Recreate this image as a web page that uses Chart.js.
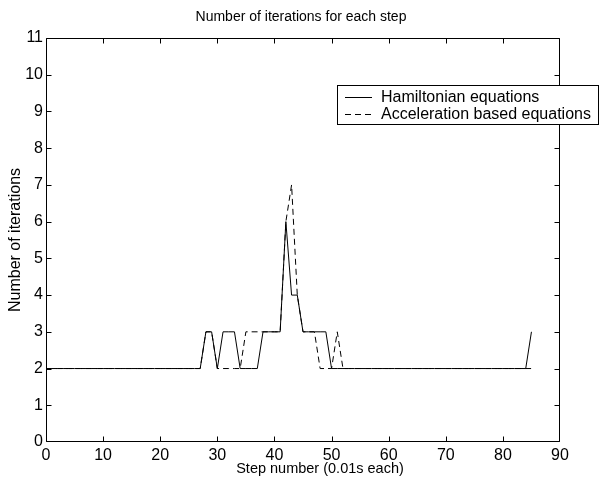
<!DOCTYPE html>
<html><head><meta charset="utf-8">
<script src="https://cdn.jsdelivr.net/npm/chart.js@4/dist/chart.umd.min.js"></script>
<style>html,body{margin:0;padding:0;background:#fff;overflow:hidden}</style>
</head><body>
<canvas id="c" width="599" height="481"></canvas>
<script>
const TITLE = "Number of iterations for each step";
const X_LABEL = "Step number (0.01s each)";
const Y_LABEL = "Number of iterations";
const steps = [0,1,2,3,4,5,6,7,8,9,10,11,12,13,14,15,16,17,18,19,20,21,22,23,24,25,26,27,28,29,30,31,32,33,34,35,36,37,38,39,40,41,42,43,44,45,46,47,48,49,50,51,52,53,54,55,56,57,58,59,60,61,62,63,64,65,66,67,68,69,70,71,72,73,74,75,76,77,78,79,80,81,82,83,84,85];
const hamiltonian = [2,2,2,2,2,2,2,2,2,2, 2,2,2,2,2,2,2,2,2,2, 2,2,2,2,2,2,2,2,3,3, 2,3,3,3,2,2,2,2,3,3, 3,3,6,4,4,3,3,3,3,3, 2,2,2,2,2,2,2,2,2,2, 2,2,2,2,2,2,2,2,2,2, 2,2,2,2,2,2,2,2,2,2, 2,2,2,2,2,3];
const acceleration = [2,2,2,2,2,2,2,2,2,2, 2,2,2,2,2,2,2,2,2,2, 2,2,2,2,2,2,2,2,3,3, 2,2,2,2,2,3,3,3,3,3, 3,3,6,7,4,3,3,3,2,2, 2,3,2,2,2,2,2,2,2,2, 2,2,2,2,2,2,2,2,2,2, 2,2,2,2,2,2,2,2,2,2, 2,2,2,2,2,2];
const seriesNames = ["Hamiltonian equations", "Acceleration based equations"];
const xTicks = [0,10,20,30,40,50,60,70,80,90];
const yTicks = [0,1,2,3,4,5,6,7,8,9,10,11];

const FONT = '"Liberation Sans", Arial, Helvetica, sans-serif';
Chart.defaults.font.family = FONT;
Chart.defaults.color = '#000';

const framePlugin = {
  id: 'matlabFrame',
  afterDraw(chart) {
    const ctx = chart.ctx;
    const a = chart.chartArea;
    const xs = chart.scales.x, ys = chart.scales.y;
    ctx.save();
    ctx.strokeStyle = '#000';
    ctx.lineWidth = 1;
    const L = Math.round(a.left) + 0.5, R = Math.round(a.right) - 0.5;
    const T = Math.round(a.top) + 0.5, B = Math.round(a.bottom) - 0.5;
    ctx.beginPath();
    ctx.rect(L, T, R - L, B - T);
    const tl = 5;
    xTicks.forEach(v => {
      const px = Math.min(R, Math.max(L, Math.round(xs.getPixelForValue(v)) + 0.5));
      ctx.moveTo(px, B); ctx.lineTo(px, B - tl);
      ctx.moveTo(px, T); ctx.lineTo(px, T + tl);
    });
    yTicks.forEach(v => {
      const py = Math.min(B, Math.max(T, Math.round(ys.getPixelForValue(v)) + 0.5));
      ctx.moveTo(L, py); ctx.lineTo(L + tl, py);
      ctx.moveTo(R, py); ctx.lineTo(R - tl, py);
    });
    ctx.stroke();

    // title
    ctx.fillStyle = '#000';
    ctx.font = '14px ' + FONT;
    ctx.textAlign = 'center';
    ctx.textBaseline = 'middle';
    ctx.fillText(TITLE, 301, 17);

    // x axis label
    ctx.font = '14.5px ' + FONT;
    ctx.fillText(X_LABEL, 320, 469);

    // legend
    const bx = 337.5, by = 85.5, bw = 261, bh = 39;
    ctx.fillStyle = '#fff';
    ctx.fillRect(bx, by, bw, bh);
    ctx.strokeRect(bx, by, bw, bh);
    chart.data.datasets.forEach((ds, i) => {
      const y = 97.5 + i * 17;
      ctx.beginPath();
      ctx.setLineDash(ds.borderDash || []);
      ctx.moveTo(345, y); ctx.lineTo(372, y);
      ctx.stroke();
      ctx.setLineDash([]);
      ctx.fillStyle = '#000';
      ctx.font = '16px ' + FONT;
      ctx.textAlign = 'left';
      ctx.fillText(ds.label, 381, y);
    });
    ctx.restore();
  }
};

new Chart(document.getElementById('c'), {
  type: 'line',
  data: {
    datasets: [
      { label: seriesNames[0], data: steps.map((s, i) => ({x: s, y: hamiltonian[i]})),
        borderColor: '#000', borderWidth: 1, pointRadius: 0, tension: 0, fill: false },
      { label: seriesNames[1], data: steps.map((s, i) => ({x: s, y: acceleration[i]})),
        borderColor: '#000', borderWidth: 1, borderDash: [6, 4], pointRadius: 0, tension: 0, fill: false }
    ]
  },
  options: {
    responsive: false,
    animation: false,
    layout: { padding: { top: 38, right: 39, left: 0, bottom: 0 } },
    plugins: { legend: { display: false }, title: { display: false }, tooltip: { enabled: false } },
    scales: {
      x: {
        type: 'linear', min: 0, max: 90,
        afterBuildTicks: s => { s.ticks = xTicks.map(v => ({value: v})); },
        ticks: { font: { size: 16 }, color: '#000', padding: 4, maxRotation: 0, autoSkip: false },
        grid: { display: false, drawTicks: false },
        border: { display: false },
        title: { display: false },
        afterFit: s => { s.height = 39; }
      },
      y: {
        type: 'linear', min: 0, max: 11,
        afterBuildTicks: s => { s.ticks = yTicks.map(v => ({value: v})); },
        ticks: { font: { size: 16 }, color: '#000', padding: 3, autoSkip: false },
        grid: { display: false, drawTicks: false },
        border: { display: false },
        title: { display: true, text: Y_LABEL, font: { size: 16 }, color: '#000', padding: { top: 6, bottom: 0 } },
        afterFit: s => { s.width = 46; }
      }
    }
  },
  plugins: [framePlugin]
});
</script>
</body></html>
